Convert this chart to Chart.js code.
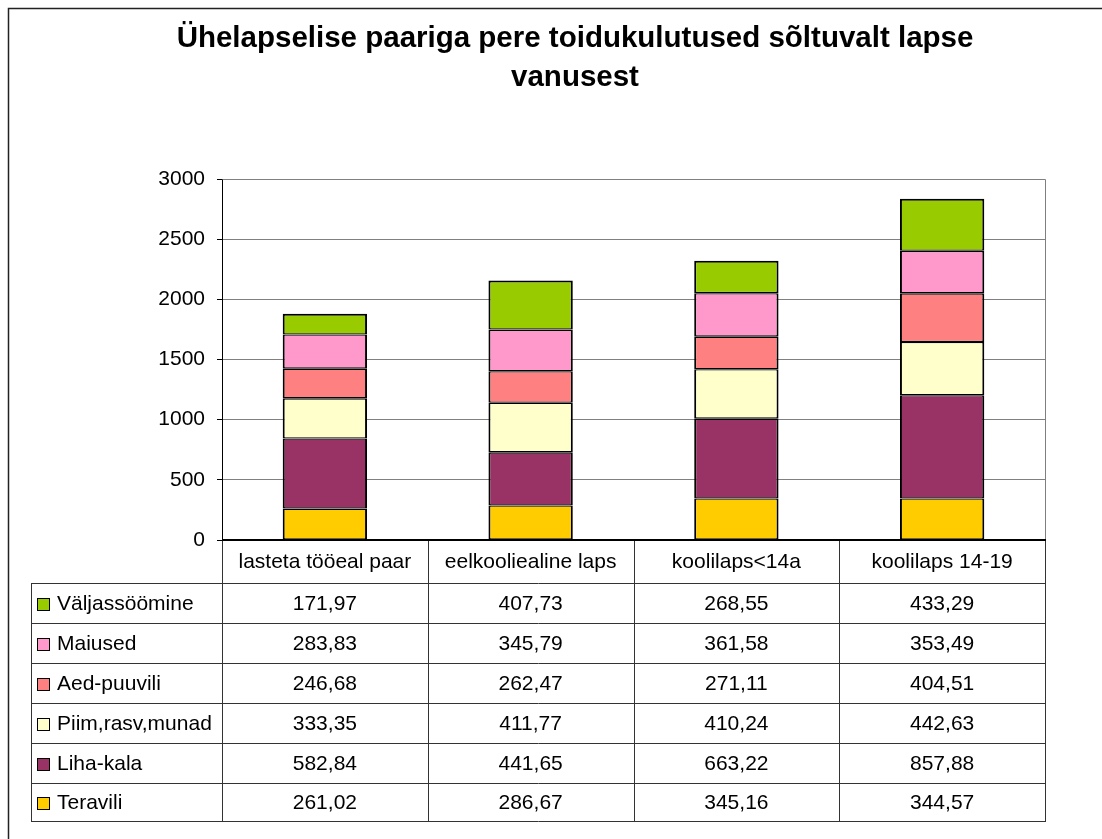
<!DOCTYPE html>
<html>
<head>
<meta charset="utf-8">
<script src="https://cdn.jsdelivr.net/npm/chart.js@4"></script>
<style>
  html, body { margin: 0; padding: 0; background: #fff; }
  canvas { display: block; }
</style>
</head>
<body>
<canvas id="c" width="1102" height="839"></canvas>
<script>
const titleLines = ["Ühelapselise paariga pere toidukulutused sõltuvalt lapse", "vanusest"];
const categories = ["lasteta tööeal paar", "eelkoolieaIine laps".replace("I", "l"), "koolilaps<14a", "koolilaps 14-19"];
const seriesNames = ["Teravili", "Liha-kala", "Piim,rasv,munad", "Aed-puuvili", "Maiused", "Väljassöömine"];
const teravili = [261.02, 286.67, 345.16, 344.57];
const lihaKala = [582.84, 441.65, 663.22, 857.88];
const piim = [333.35, 411.77, 410.24, 442.63];
const aedPuuvili = [246.68, 262.47, 271.11, 404.51];
const maiused = [283.83, 345.79, 361.58, 353.49];
const valjassoomine = [171.97, 407.73, 268.55, 433.29];
const seriesValues = [teravili, lihaKala, piim, aedPuuvili, maiused, valjassoomine];
const seriesColors = ["#FFCC00", "#993366", "#FFFFCC", "#FF8080", "#FF99CC", "#99CC00"];
const yTicks = [0, 500, 1000, 1500, 2000, 2500, 3000];

const FONT = "'Liberation Sans', Arial, sans-serif";

const datasets = seriesNames.map((name, i) => ({
  label: name,
  data: seriesValues[i],
  backgroundColor: seriesColors[i],
  borderColor: "#000",
  borderWidth: { left: 2, right: 2, top: i === seriesNames.length - 1 ? 2 : 1.3, bottom: 1.3 },
  borderSkipped: false,
  categoryPercentage: 1,
  barPercentage: 0.41
}));

function fmt(v) { return v.toFixed(2).replace(".", ","); }

const decor = {
  id: "decor",
  beforeDraw(chart) {
    const ctx = chart.ctx;
    ctx.save();
    ctx.fillStyle = "#fff";
    ctx.fillRect(0, 0, chart.width, chart.height);
    ctx.strokeStyle = "#222";
    ctx.lineWidth = 1.5;
    ctx.beginPath();
    ctx.moveTo(8.5, chart.height);
    ctx.lineTo(8.5, 8.5);
    ctx.lineTo(chart.width, 8.5);
    ctx.stroke();
    ctx.fillStyle = "#000";
    ctx.font = "bold 29.5px " + FONT;
    ctx.textAlign = "center";
    ctx.textBaseline = "alphabetic";
    ctx.fillText(titleLines[0], 575, 47);
    ctx.fillText(titleLines[1], 575, 86);
    ctx.restore();
  },
  beforeDatasetsDraw(chart) {
    const ctx = chart.ctx;
    const a = chart.chartArea;
    ctx.save();
    ctx.strokeStyle = "#808080";
    ctx.lineWidth = 1;
    ctx.beginPath();
    ctx.moveTo(Math.round(a.left) + 0.5, Math.round(a.top) + 0.5);
    ctx.lineTo(Math.round(a.right) + 0.5, Math.round(a.top) + 0.5);
    ctx.lineTo(Math.round(a.right) + 0.5, Math.round(a.bottom));
    ctx.stroke();
    ctx.restore();
  },
  afterDraw(chart) {
    const ctx = chart.ctx;
    const a = chart.chartArea;
    const xs = chart.scales.x;
    const n = categories.length;
    const half = (xs.getPixelForValue(1) - xs.getPixelForValue(0)) / 2;
    const bounds = [];
    for (let i = 0; i < n; i++) bounds.push(xs.getPixelForValue(i) - half);
    bounds.push(xs.getPixelForValue(n - 1) + half);
    const tableLeft = 31;
    const headerTop = Math.round(a.bottom);
    const headerBottom = 583;
    const rowH = 40;
    const rows = seriesNames.length;
    const rowTops = [];
    for (let r = 0; r <= rows; r++) rowTops.push(headerBottom + r * rowH);
    const tableBottom = rowTops[rows] - 2;
    rowTops[rows] = tableBottom;
    ctx.save();
    ctx.strokeStyle = "#333";
    ctx.lineWidth = 1;
    ctx.beginPath();
    bounds.forEach((bx) => {
      const x = Math.round(bx) + 0.5;
      ctx.moveTo(x, headerTop);
      ctx.lineTo(x, tableBottom);
    });
    ctx.moveTo(tableLeft + 0.5, headerBottom);
    ctx.lineTo(tableLeft + 0.5, tableBottom);
    rowTops.forEach(y => {
      ctx.moveTo(tableLeft, y + 0.5);
      ctx.lineTo(Math.round(bounds[n]) + 1, y + 0.5);
    });
    ctx.stroke();
    ctx.strokeStyle = "#000";
    ctx.lineWidth = 2;
    ctx.beginPath();
    ctx.moveTo(Math.round(a.left), Math.round(a.bottom));
    ctx.lineTo(Math.round(a.right) + 1, Math.round(a.bottom));
    ctx.stroke();
    ctx.fillStyle = "#000";
    ctx.font = "21px " + FONT;
    ctx.textAlign = "center";
    ctx.textBaseline = "middle";
    for (let i = 0; i < n; i++) {
      ctx.fillText(categories[i], xs.getPixelForValue(i), (headerTop + headerBottom) / 2 + 1);
    }
    for (let r = 0; r < rows; r++) {
      const si = rows - 1 - r;
      const yc = (rowTops[r] + rowTops[r + 1]) / 2 + 1;
      ctx.fillStyle = seriesColors[si];
      ctx.fillRect(37, Math.round(yc) - 6, 12, 12);
      ctx.strokeStyle = "#000";
      ctx.lineWidth = 1;
      ctx.strokeRect(37.5, Math.round(yc) - 5.5, 12, 12);
      ctx.fillStyle = "#000";
      ctx.textAlign = "left";
      ctx.fillText(seriesNames[si], 57, yc);
      ctx.textAlign = "center";
      for (let i = 0; i < n; i++) {
        ctx.fillText(fmt(seriesValues[si][i]), xs.getPixelForValue(i), yc);
      }
    }
    ctx.restore();
  }
};

new Chart(document.getElementById("c"), {
  type: "bar",
  data: { labels: categories, datasets },
  options: {
    responsive: false,
    animation: false,
    devicePixelRatio: 1,
    layout: { padding: { left: 122, right: 57, top: 179, bottom: 299 } },
    plugins: { legend: { display: false }, title: { display: false }, tooltip: { enabled: false } },
    scales: {
      x: { stacked: true, display: false, offset: true },
      y: {
        stacked: true,
        min: 0,
        max: 3000,
        afterFit(scale) { scale.width = 100; },
        afterBuildTicks(scale) { scale.ticks = yTicks.map(v => ({ value: v })); },
        ticks: { color: "#000", font: { family: FONT, size: 21 }, padding: 12, callback: (v) => String(v) },
        grid: { color: "#808080", lineWidth: 1, tickLength: 5, tickColor: "#000" },
        border: { display: true, color: "#000", width: 1 }
      }
    }
  },
  plugins: [decor]
});
</script>
</body>
</html>
